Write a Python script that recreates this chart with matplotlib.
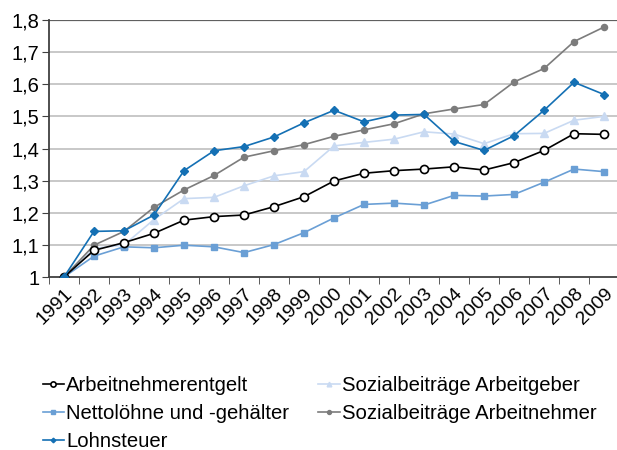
import numpy as np
import matplotlib
matplotlib.use("Agg")
import matplotlib.pyplot as plt

plt.rcParams['font.family'] = ['Liberation Sans', 'DejaVu Sans']

# data (index, 1991 = 1)
years = [str(y) for y in range(1991, 2010)]
arbeitnehmerentgelt = [1.0, 1.083, 1.107, 1.136, 1.177, 1.188, 1.193, 1.219, 1.25, 1.299,
                       1.323, 1.331, 1.336, 1.343, 1.333, 1.356, 1.394, 1.446, 1.444]
nettoloehne = [1.0, 1.065, 1.094, 1.091, 1.099, 1.094, 1.076, 1.101, 1.138, 1.184,
               1.226, 1.230, 1.224, 1.254, 1.252, 1.257, 1.295, 1.336, 1.328]
lohnsteuer = [1.0, 1.142, 1.144, 1.193, 1.331, 1.393, 1.406, 1.436, 1.48, 1.519,
              1.483, 1.504, 1.506, 1.422, 1.394, 1.44, 1.519, 1.606, 1.568]
sozial_ag = [1.0, 1.089, 1.10, 1.179, 1.244, 1.248, 1.284, 1.315, 1.328, 1.408,
             1.419, 1.429, 1.452, 1.445, 1.415, 1.446, 1.447, 1.488, 1.5]
sozial_an = [1.0, 1.099, 1.142, 1.217, 1.271, 1.316, 1.373, 1.393, 1.412, 1.438,
             1.458, 1.477, 1.508, 1.523, 1.537, 1.607, 1.649, 1.733, 1.778]
y_ticks = [1.0, 1.1, 1.2, 1.3, 1.4, 1.5, 1.6, 1.7, 1.8]
y_labels = ['1', '1,1', '1,2', '1,3', '1,4', '1,5', '1,6', '1,7', '1,8']

fig = plt.figure(figsize=(6.17, 4.5), dpi=100)
ax = fig.add_axes([0.0794, 0.3844, 0.924, 0.5712])

x = np.arange(len(years))
lines = []
lines += ax.plot(x, arbeitnehmerentgelt, color='black', lw=1.2, marker='o', ms=5.8,
                 mfc='white', mec='black', mew=1.2, label='Arbeitnehmerentgelt', zorder=5)
lines += ax.plot(x, nettoloehne, color='#6a9fd5', lw=1.2, marker='s', ms=4.6,
                 mec='#6a9fd5', label='Nettolöhne und -gehälter', zorder=4)
lines += ax.plot(x, lohnsteuer, color='#1470b4', lw=1.2, marker='D', ms=3.6,
                 label='Lohnsteuer', zorder=6)
lines += ax.plot(x, sozial_ag, color='#c9daf2', lw=1.2, marker='^', ms=5.2,
                 label='Sozialbeiträge Arbeitgeber', zorder=3)
lines += ax.plot(x, sozial_an, color='#7c7c7c', lw=1.2, marker='o', ms=4.4,
                 label='Sozialbeiträge Arbeitnehmer', zorder=4)

ax.set_xlim(-0.5, len(years) - 0.5)
ax.set_ylim(1.0, 1.8)
ax.set_yticks(y_ticks)
ax.set_yticklabels(y_labels, fontsize=14.5)
ax.set_xticks(x)
ax.set_xticklabels(years, fontsize=14, rotation=45, ha='right', rotation_mode='anchor')
ax.set_xticks(np.arange(len(years) + 1) - 0.5, minor=True)
ax.tick_params(axis='x', which='major', length=0, pad=6)
ax.tick_params(axis='x', which='minor', length=5, color='#404040')
ax.tick_params(axis='y', length=5, color='#404040', pad=2)

for yv in y_ticks[1:-1]:
    ax.axhline(yv, color='#c8c8c8', lw=1.4, zorder=1)
ax.axhline(1.8, color='#606060', lw=1.6, zorder=1)
for s in ['top', 'right']:
    ax.spines[s].set_visible(False)
ax.spines['left'].set_color('#404040')
ax.spines['bottom'].set_color('#404040')
ax.spines['left'].set_linewidth(1.3)
ax.spines['bottom'].set_linewidth(1.3)

fig.legend(handles=lines, loc='upper left', bbox_to_anchor=(0.056, 0.183), ncol=2,
           frameon=False, fontsize=14.6, handlelength=1.05, handletextpad=0.1,
           labelspacing=0.46, columnspacing=1.45, borderaxespad=0, markerscale=0.65)

fig.savefig('out.png', dpi=100)
